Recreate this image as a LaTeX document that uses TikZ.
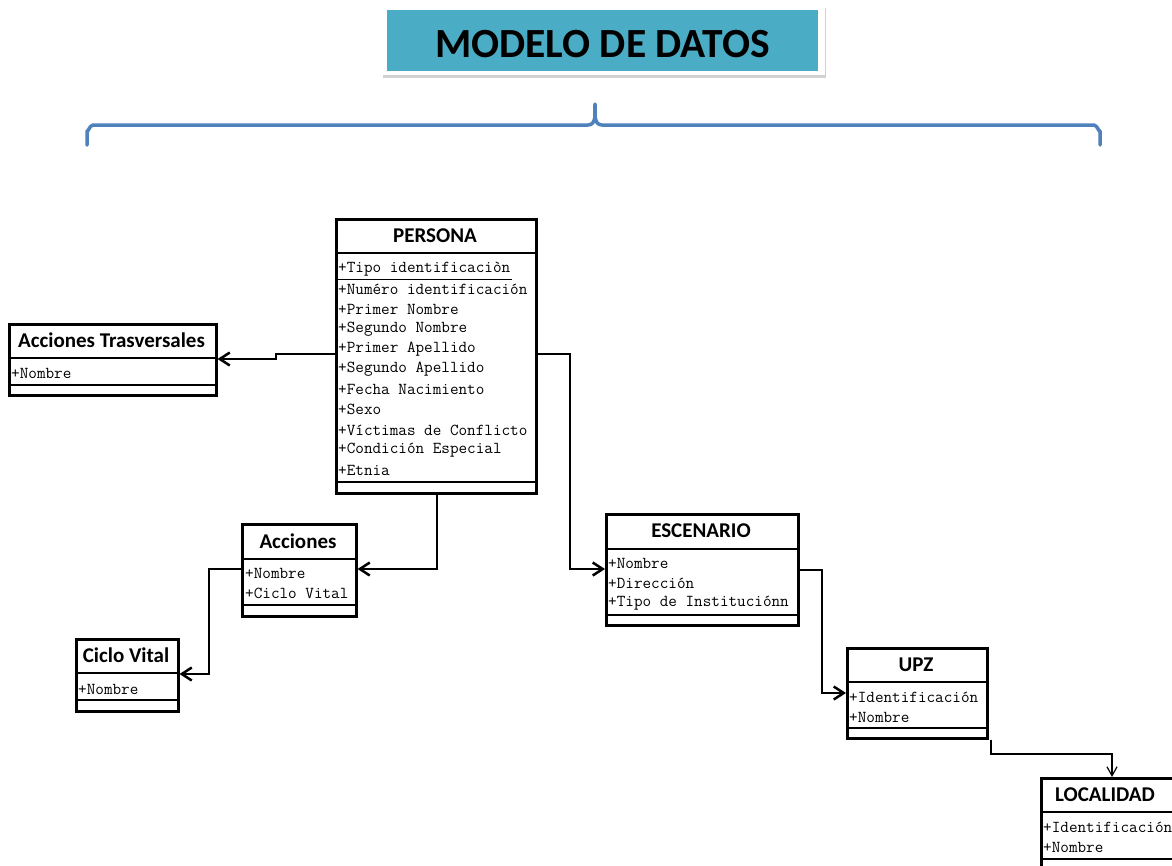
\documentclass[tikz,border=0pt]{standalone}
\usepackage{fontspec}
\setmainfont{Carlito}
\usetikzlibrary{arrows.meta,shadows,calc}
\definecolor{titleteal}{HTML}{4BACC6}
\definecolor{braceblue}{HTML}{4F81BD}

\newcommand\umlclass[7]{%
  \node[classbox, minimum width={#4pt-#2pt}, minimum height={#5pt-#3pt}] (#1) at (#2,#3) {};
  \draw[sep] (#2,#6) -- (#4,#6);
  \draw[sep] (#2,#7) -- (#4,#7);
}

\begin{document}
\begin{tikzpicture}[x=1pt,y=-1pt,
  classbox/.style={draw=black,line width=2.5pt,anchor=north west,inner sep=0pt,fill=white},
  sep/.style={line width=2.5pt},
  hdr/.style={font=\bfseries\fontsize{21}{24}\selectfont,inner sep=0pt},
  attr/.style={font=\ttfamily\fontsize{16.7}{18}\selectfont,anchor=west,inner sep=0pt},
  conn/.style={line width=2.5pt,-{Straight Barb[length=10pt,width=13pt,line width=2.5pt]}},
  thinconn/.style={line width=2.2pt,-{Straight Barb[length=9pt,width=10pt,line width=1.2pt]}},
  brace/.style={draw=braceblue,line width=3.5pt,line cap=round,line join=round},
]
\useasboundingbox (0,0) rectangle (1172,865);
\clip (0,0) rectangle (1172,865);
\fill[white] (0,0) rectangle (1172,865);

% ---- title ----
\node[fill=white, drop shadow={opacity=0.35,shadow xshift=1pt,shadow yshift=-3pt},
      minimum width=443pt, minimum height=70pt, anchor=north west, inner sep=0pt]
      (titleframe) at (382,5) {};
\node[fill=titleteal, minimum width=431pt, minimum height=61pt, anchor=north west, inner sep=0pt]
      (title) at (387,10) {};
\node[font=\bfseries\fontsize{41.5}{46}\selectfont, anchor=base, inner sep=0pt]
      (titletext) at (602.5,57) {MODELO DE DATOS};

% ---- brace ----
\draw[brace] (87,145) -- (87,131) to[out=-90,in=180] (93,125) -- (588,125)
  to[out=0,in=-90] (595,104) to[out=-90,in=180] (602,125) -- (1094,125)
  to[out=0,in=-90] (1100,131) -- (1100,145);

% ---- classes ----
\umlclass{persona}{335}{218}{535}{492}{253}{482}
\node[hdr] (personah) at (435,235.5) {PERSONA};
\node[attr] (p1) at (338,269) {+Tipo identificaciòn};
\draw[line width=1.2pt] (337,279.5) -- (512,279.5);
\node[attr] (p2) at (338,289) {+Numéro identificación};
\node[attr] (p3) at (338,309) {+Primer Nombre};
\node[attr] (p4) at (338,329) {+Segundo Nombre};
\node[attr] (p5) at (338,349) {+Primer Apellido};
\node[attr] (p6) at (338,369) {+Segundo Apellido};
\node[attr] (p7) at (338,389) {+Fecha Nacimiento};
\node[attr] (p8) at (338,409) {+Sexo};
\node[attr] (p9) at (338,430) {+Víctimas de Conflicto};
\node[attr] (p10) at (338,450) {+Condición Especial};
\node[attr] (p11) at (338,470) {+Etnia};

\umlclass{acctras}{8}{323}{215}{394}{358}{385}
\node[hdr] (acctrash) at (111.5,340.5) {Acciones Trasversales};
\node[attr] (at1) at (11,373) {+Nombre};

\umlclass{acciones}{241}{523}{355}{615}{559}{605}
\node[hdr] (accionesh) at (298,541) {Acciones};
\node[attr] (ac1) at (245,573) {+Nombre};
\node[attr] (ac2) at (245,593.5) {+Ciclo Vital};

\umlclass{ciclo}{75}{638}{177}{710}{673}{700}
\node[hdr] (cicloh) at (126,655.5) {Ciclo Vital};
\node[attr] (cv1) at (78,689) {+Nombre};

\umlclass{escenario}{605}{513}{797}{624}{549}{615}
\node[hdr] (escenarioh) at (701,531) {ESCENARIO};
\node[attr] (e1) at (608,563) {+Nombre};
\node[attr] (e2) at (608,583) {+Dirección};
\node[attr] (e3) at (608,603.5) {+Tipo de Instituciónn};

\umlclass{upz}{846}{647}{986}{737}{682}{728}
\node[hdr] (upzh) at (916,664.5) {UPZ};
\node[attr] (u1) at (849,697) {+Identificación};
\node[attr] (u2) at (849,717) {+Nombre};

\umlclass{localidad}{1040}{777}{1190}{885}{812}{859}
\node[hdr] (localidadh) at (1105,794.5) {LOCALIDAD};
\node[attr] (l1) at (1043,827) {+Identificación};
\node[attr] (l2) at (1043,847) {+Nombre};

% ---- connectors ----
\draw[conn] (persona.west |- 0,354) -- (276,354) -- (276,359) -- (acctras.east |- 0,359);
\draw[conn] (437,0 |- persona.south) -- (437,569) -- (acciones.east |- 0,569);
\draw[conn] (acciones.west |- 0,569) -- (209,569) -- (209,674) -- (ciclo.east |- 0,674);
\draw[conn] (persona.east |- 0,354) -- (570,354) -- (570,569) -- (escenario.west |- 0,569);
\draw[conn] (escenario.east |- 0,570) -- (822,570) -- (822,693) -- (upz.west |- 0,693);
\draw[thinconn] (991,0 |- upz.south) -- (991,754) -- (1112,754) -- (1112,0 |- localidad.north);
\end{tikzpicture}
\end{document}
